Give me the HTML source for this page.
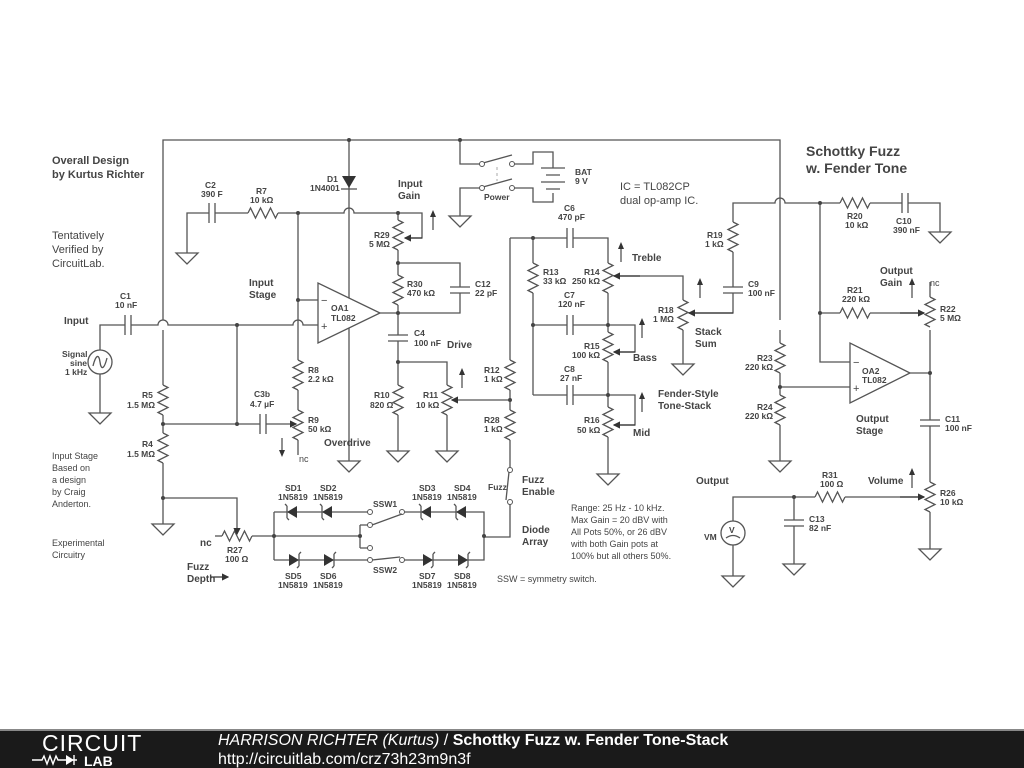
<!DOCTYPE html>
<html><head><meta charset="utf-8"><style>
body{margin:0;width:1024px;height:768px;background:#fff;overflow:hidden;font-family:"Liberation Sans",sans-serif}
svg{position:absolute;left:0;top:0}
.w{stroke:#555;stroke-width:1.3;fill:none}
text{fill:#444;font-family:"Liberation Sans",sans-serif}
.b{font-weight:bold;font-size:8.5px}
.m{font-weight:bold;font-size:10px}
.n{font-size:11px}
</style></head><body>
<svg width="1024" height="768" viewBox="0 0 1024 768">
<defs>
<g id="rv"><rect x="-6" y="-15" width="12" height="30" fill="#fff"/><path class="w" d="M0,-15 l5,2.5 l-10,5 l10,5 l-10,5 l10,5 l-10,5 l5,2.5"/></g>
<g id="rh"><rect x="-15" y="-6" width="30" height="12" fill="#fff"/><path class="w" d="M-15,0 l2.5,-5 l5,10 l5,-10 l5,10 l5,-10 l5,10 l2.5,-5"/></g>
<g id="cv"><rect x="-10" y="-3" width="20" height="6" fill="#fff"/><path class="w" d="M-10,-3h20M-10,3h20"/></g>
<g id="ch"><rect x="-3" y="-10" width="6" height="20" fill="#fff"/><path class="w" d="M-3,-10v20M3,-10v20"/></g>
<g id="g"><path class="w" d="M0,0v6M-11,6h22l-11,11z"/></g>
<g id="dl"><path d="M-6,0l10,-6v12z" fill="#333"/><path class="w" d="M-6,-6v12M-6,-6l-2,-2M-6,6l2,2"/></g>
<g id="dr"><path d="M6,0l-10,-6v12z" fill="#333"/><path class="w" d="M6,-6v12M6,-6l2,-2M6,6l-2,2"/></g>
<g id="ua"><path class="w" d="M0,0v-16"/><path d="M0,-20l-3,7h6z" fill="#333"/></g>
<marker id="ar" markerWidth="6" markerHeight="6" refX="5" refY="3" orient="auto"><path d="M0,0L6,3L0,6z" fill="#333"/></marker>
</defs>

<!-- wires -->
<path class="w" d="M163,320V140H780V320 M780,330V455"/>
<path class="w" d="M163,330V518 M349,140V455"/>
<path class="w" d="M100,350V325H158a5,5 0 0 1 10,0H293a5,5 0 0 1 10,0H318 M100,374V407"/>
<path class="w" d="M237,325V424 M163,424H290 M163,498H237V530"/>
<path class="w" d="M187,247V213H344a5,5 0 0 1 10,0H422V238H410 M298,213V300H318 M298,300V440 M298,440V455"/>
<path class="w" d="M398,213V313 M398,263H460V313H380 M398,313V445 M398,362H447V445 M455,400H510"/>
<path class="w" d="M510,238V470 M510,502V537H484"/>
<path class="w" d="M510,238H608V468 M533,238V395 M533,325H608 M533,395H608 M608,325H635V352H615 M608,395H635V425H615 M615,276H683V358"/>
<path class="w" d="M690,313H733V203H775a5,5 0 0 1 10,0H940V226"/>
<path class="w" d="M820,203V362H850 M820,313H925 M780,387H850 M910,373H930 M930,330V543 M930,282V300"/>
<path class="w" d="M733,521V497H925 M794,497V558 M733,545V570"/>
<!-- diode array -->
<path class="w" d="M252,536H360 M274,512V560 M274,512H370 M402,512H484V560H402 M370,560H274 M360,525V548"/>
<!-- battery/switch -->
<path class="w" d="M460,140V164H480 M512,164H533V152H553V168 M553,193V202H533V188H512 M480,188H460V210"/>
<path class="w" d="M483,163L512,155 M483,187L512,179"/><path d="M497,167V181" stroke="#aaa" stroke-dasharray="3,3"/>
<path class="w" d="M541,168h24M546,175h14M541,182h24M546,189h14"/>
<g fill="#fff" stroke="#555"><circle cx="482" cy="164" r="2.5"/><circle cx="512" cy="164" r="2.5"/><circle cx="482" cy="188" r="2.5"/><circle cx="512" cy="188" r="2.5"/>
<circle cx="510" cy="470" r="2.5"/><circle cx="510" cy="502" r="2.5"/>
<circle cx="370" cy="512" r="2.5"/><circle cx="402" cy="512" r="2.5"/><circle cx="370" cy="525" r="2.5"/><circle cx="370" cy="548" r="2.5"/><circle cx="370" cy="560" r="2.5"/><circle cx="402" cy="560" r="2.5"/></g>
<path class="w" d="M360,525H368 M360,548H368 M372,525L402,514 M372,560L400,557 M509,472L506,500"/>
<!-- diodes D1 -->
<path d="M342,176h14l-7,12z" fill="#333"/><path class="w" d="M341,189h16"/>
<use href="#dl" x="293" y="512"/><use href="#dl" x="328" y="512"/><use href="#dl" x="427" y="512"/><use href="#dl" x="462" y="512"/>
<use href="#dr" x="293" y="560"/><use href="#dr" x="328" y="560"/><use href="#dr" x="427" y="560"/><use href="#dr" x="462" y="560"/>
<!-- op amps -->
<path d="M318,283L318,343L380,313Z" fill="#fff" stroke="#555" stroke-width="1.3"/>
<path d="M850,343L850,403L910,373Z" fill="#fff" stroke="#555" stroke-width="1.3"/>
<text x="321" y="304" class="n">−</text><text x="321" y="330" class="n">+</text>
<text x="853" y="366" class="n">−</text><text x="853" y="392" class="n">+</text>
<!-- resistors -->
<use href="#rv" x="163" y="400"/><use href="#rv" x="163" y="448"/>
<use href="#rv" x="298" y="375"/><use href="#rv" x="298" y="425"/>
<use href="#rv" x="398" y="235"/><use href="#rv" x="398" y="290"/><use href="#rv" x="398" y="400"/><use href="#rv" x="447" y="400"/>
<use href="#rv" x="510" y="375"/><use href="#rv" x="510" y="425"/>
<use href="#rv" x="533" y="278"/><use href="#rv" x="608" y="278"/><use href="#rv" x="608" y="347"/><use href="#rv" x="608" y="422"/>
<use href="#rv" x="683" y="315"/><use href="#rv" x="733" y="237"/>
<use href="#rv" x="780" y="358"/><use href="#rv" x="780" y="410"/><use href="#rv" x="930" y="312"/><use href="#rv" x="930" y="497"/>
<use href="#rh" x="263" y="213"/><use href="#rh" x="237" y="536"/><use href="#rh" x="855" y="203"/><use href="#rh" x="855" y="313"/><use href="#rh" x="830" y="497"/>
<path class="w" d="M215,536H222"/>
<!-- caps -->
<use href="#ch" x="128" y="325"/><use href="#ch" x="212" y="213"/><use href="#ch" x="263" y="424"/><use href="#ch" x="570" y="238"/><use href="#ch" x="570" y="325"/><use href="#ch" x="570" y="395"/><use href="#ch" x="905" y="203"/>
<use href="#cv" x="460" y="290"/><use href="#cv" x="398" y="338"/><use href="#cv" x="733" y="290"/><use href="#cv" x="930" y="423"/><use href="#cv" x="794" y="523"/>
<!-- wiper arrows -->
<g stroke="#333" stroke-width="1.2" fill="none" marker-end="url(#ar)">
<path d="M422,238H405"/><path d="M290,424H296"/><path d="M455,400H452"/><path d="M237,530V534"/>
<path d="M635,352H614"/><path d="M635,425H614"/><path d="M640,276H614"/><path d="M733,313H689"/><path d="M900,313H924"/><path d="M900,497H924"/>
<path d="M210,577H228"/>
</g>
<use href="#ua" x="433" y="230"/><use href="#ua" x="462" y="388"/><use href="#ua" x="621" y="262"/><use href="#ua" x="642" y="338"/><use href="#ua" x="642" y="412"/>
<use href="#ua" x="700" y="298"/><use href="#ua" x="912" y="298"/><use href="#ua" x="912" y="488"/>
<path class="w" d="M282,438v14"/><path d="M282,457l-3,-7h6z" fill="#333"/>
<!-- sources -->
<circle cx="100" cy="362" r="12" fill="#fff" stroke="#555" stroke-width="1.3"/><path class="w" d="M93,366c3,-12 6,-12 7,-4s4,8 7,-4"/>
<circle cx="733" cy="533" r="12" fill="#fff" stroke="#555" stroke-width="1.3"/><text x="729" y="533" class="b">V</text><path class="w" d="M726,538q7,-5 14,0"/>
<!-- grounds -->
<use href="#g" x="100" y="407"/><use href="#g" x="163" y="518"/><use href="#g" x="187" y="247"/><use href="#g" x="349" y="455"/><use href="#g" x="398" y="445"/><use href="#g" x="447" y="445"/><use href="#g" x="460" y="210"/>
<use href="#g" x="608" y="468"/><use href="#g" x="683" y="358"/><use href="#g" x="780" y="455"/><use href="#g" x="940" y="226"/><use href="#g" x="930" y="543"/><use href="#g" x="794" y="558"/><use href="#g" x="733" y="570"/>
<!-- dots -->
<g fill="#444"><circle cx="237" cy="325" r="2"/><circle cx="163" cy="424" r="2"/><circle cx="237" cy="424" r="2"/><circle cx="163" cy="498" r="2"/><circle cx="298" cy="213" r="2"/><circle cx="298" cy="300" r="2"/>
<circle cx="398" cy="213" r="2"/><circle cx="398" cy="263" r="2"/><circle cx="398" cy="313" r="2"/><circle cx="398" cy="362" r="2"/><circle cx="510" cy="400" r="2"/><circle cx="533" cy="238" r="2"/><circle cx="533" cy="325" r="2"/>
<circle cx="608" cy="325" r="2"/><circle cx="608" cy="395" r="2"/><circle cx="820" cy="203" r="2"/><circle cx="820" cy="313" r="2"/><circle cx="780" cy="387" r="2"/><circle cx="930" cy="373" r="2"/><circle cx="794" cy="497" r="2"/>
<circle cx="274" cy="536" r="2"/><circle cx="360" cy="536" r="2"/><circle cx="484" cy="536" r="2"/><circle cx="349" cy="140" r="2"/><circle cx="460" cy="140" r="2"/></g>

<!-- text -->
<text x="52" y="164" class="m" style="font-size:11px">Overall Design</text><text x="52" y="178" class="m" style="font-size:11px">by Kurtus Richter</text>
<text x="52" y="239" class="n">Tentatively</text><text x="52" y="253" class="n">Verified by</text><text x="52" y="267" class="n">CircuitLab.</text>
<text x="52" y="459" style="font-size:9px">Input Stage</text><text x="52" y="471" style="font-size:9px">Based on</text><text x="52" y="483" style="font-size:9px">a design</text><text x="52" y="495" style="font-size:9px">by Craig</text><text x="52" y="507" style="font-size:9px">Anderton.</text>
<text x="52" y="546" style="font-size:9px">Experimental</text><text x="52" y="558" style="font-size:9px">Circuitry</text>
<text x="806" y="156" style="font-weight:bold;font-size:14px">Schottky Fuzz</text><text x="806" y="173" style="font-weight:bold;font-size:14px">w. Fender Tone</text>
<text x="620" y="190" class="n">IC = TL082CP</text><text x="620" y="204" class="n">dual op-amp IC.</text>
<text x="571" y="511" style="font-size:9px">Range: 25 Hz - 10 kHz.</text><text x="571" y="523" style="font-size:9px">Max Gain = 20 dBV with</text><text x="571" y="535" style="font-size:9px">All Pots 50%, or 26 dBV</text><text x="571" y="547" style="font-size:9px">with both Gain pots at</text><text x="571" y="559" style="font-size:9px">100% but all others 50%.</text>
<text x="497" y="582" style="font-size:9px">SSW = symmetry switch.</text>
<g class="m">
<text x="64" y="324" class="m">Input</text><text x="249" y="286" class="m">Input</text><text x="249" y="298" class="m">Stage</text>
<text x="398" y="187" class="m">Input</text><text x="398" y="199" class="m">Gain</text><text x="447" y="348" class="m">Drive</text><text x="324" y="446" class="m">Overdrive</text>
<text x="632" y="261" class="m">Treble</text><text x="633" y="361" class="m">Bass</text><text x="633" y="436" class="m">Mid</text><text x="695" y="335" class="m">Stack</text><text x="695" y="347" class="m">Sum</text>
<text x="658" y="397" class="m">Fender-Style</text><text x="658" y="409" class="m">Tone-Stack</text>
<text x="880" y="274" class="m">Output</text><text x="880" y="286" class="m">Gain</text><text x="856" y="422" class="m">Output</text><text x="856" y="434" class="m">Stage</text>
<text x="696" y="484" class="m">Output</text><text x="868" y="484" class="m">Volume</text>
<text x="522" y="483" class="m">Fuzz</text><text x="522" y="495" class="m">Enable</text><text x="522" y="533" class="m">Diode</text><text x="522" y="545" class="m">Array</text>
<text x="187" y="570" class="m">Fuzz</text><text x="187" y="582" class="m">Depth</text>
</g>
<g class="b">
<text x="120" y="299">C1</text><text x="115" y="308">10 nF</text>
<text x="62" y="357">Signal</text><text x="70" y="366">sine</text><text x="65" y="375">1 kHz</text>
<text x="142" y="398">R5</text><text x="127" y="408">1.5 MΩ</text><text x="142" y="447">R4</text><text x="127" y="457">1.5 MΩ</text>
<text x="205" y="188">C2</text><text x="201" y="197">390 F</text><text x="256" y="194">R7</text><text x="250" y="203">10 kΩ</text>
<text x="327" y="182">D1</text><text x="310" y="191">1N4001</text>
<text x="374" y="238">R29</text><text x="369" y="247">5 MΩ</text><text x="407" y="287">R30</text><text x="407" y="296">470 kΩ</text><text x="475" y="287">C12</text><text x="475" y="296">22 pF</text>
<text x="331" y="311">OA1</text><text x="331" y="321">TL082</text><text x="414" y="336">C4</text><text x="414" y="346">100 nF</text>
<text x="308" y="373">R8</text><text x="308" y="382">2.2 kΩ</text><text x="254" y="397">C3b</text><text x="250" y="407">4.7 µF</text><text x="308" y="423">R9</text><text x="308" y="432">50 kΩ</text>
<text x="299" y="462" style="font-weight:normal;font-size:9px">nc</text>
<text x="374" y="398">R10</text><text x="370" y="408">820 Ω</text><text x="423" y="398">R11</text><text x="416" y="408">10 kΩ</text>
<text x="484" y="373">R12</text><text x="484" y="382">1 kΩ</text><text x="484" y="423">R28</text><text x="484" y="432">1 kΩ</text>
<text x="564" y="211">C6</text><text x="558" y="220">470 pF</text><text x="543" y="275">R13</text><text x="543" y="284">33 kΩ</text><text x="584" y="275">R14</text><text x="572" y="284">250 kΩ</text>
<text x="564" y="298">C7</text><text x="558" y="307">120 nF</text><text x="584" y="349">R15</text><text x="572" y="358">100 kΩ</text><text x="564" y="372">C8</text><text x="560" y="381">27 nF</text><text x="584" y="423">R16</text><text x="577" y="433">50 kΩ</text>
<text x="658" y="313">R18</text><text x="653" y="322">1 MΩ</text><text x="707" y="238">R19</text><text x="705" y="247">1 kΩ</text><text x="748" y="287">C9</text><text x="748" y="296">100 nF</text>
<text x="575" y="175">BAT</text><text x="575" y="184">9 V</text><text x="484" y="200">Power</text>
<text x="847" y="219">R20</text><text x="845" y="228">10 kΩ</text><text x="896" y="224">C10</text><text x="893" y="233">390 nF</text>
<text x="847" y="293">R21</text><text x="842" y="302">220 kΩ</text><text x="940" y="312">R22</text><text x="940" y="321">5 MΩ</text><text x="930" y="286" style="font-weight:normal;font-size:9px">nc</text>
<text x="757" y="361">R23</text><text x="745" y="370">220 kΩ</text><text x="757" y="410">R24</text><text x="745" y="419">220 kΩ</text>
<text x="862" y="374">OA2</text><text x="862" y="383">TL082</text><text x="945" y="422">C11</text><text x="945" y="431">100 nF</text>
<text x="822" y="478">R31</text><text x="820" y="487">100 Ω</text><text x="940" y="496">R26</text><text x="940" y="505">10 kΩ</text>
<text x="809" y="522">C13</text><text x="809" y="531">82 nF</text><text x="704" y="540">VM</text>
<text x="488" y="490">Fuzz</text><text x="200" y="546" style="font-size:10px">nc</text><text x="227" y="553">R27</text><text x="225" y="562">100 Ω</text>
<text x="285" y="491">SD1</text><text x="278" y="500">1N5819</text><text x="320" y="491">SD2</text><text x="313" y="500">1N5819</text>
<text x="419" y="491">SD3</text><text x="412" y="500">1N5819</text><text x="454" y="491">SD4</text><text x="447" y="500">1N5819</text><text x="373" y="507">SSW1</text>
<text x="285" y="579">SD5</text><text x="278" y="588">1N5819</text><text x="320" y="579">SD6</text><text x="313" y="588">1N5819</text>
<text x="419" y="579">SD7</text><text x="412" y="588">1N5819</text><text x="454" y="579">SD8</text><text x="447" y="588">1N5819</text><text x="373" y="573">SSW2</text>
</g>
<!-- footer -->
<rect x="0" y="729" width="1024" height="39" fill="#1a1a1a"/>
<rect x="0" y="729" width="1024" height="2" fill="#888"/>
<text x="42" y="751" style="fill:#fff;font-size:23px;letter-spacing:1px">CIRCUIT</text>
<path d="M32,760h10l2,-4 3,8 3,-8 3,8 3,-8 2,4h6M63,760h14" stroke="#fff" stroke-width="1.4" fill="none"/><path d="M66,755l8,5-8,5z" fill="#fff"/><path d="M74,755v10" stroke="#fff" stroke-width="1.4"/>
<text x="84" y="766" style="fill:#fff;font-size:14px;font-weight:bold">LAB</text>
<text x="218" y="745" style="fill:#fff;font-size:16px"><tspan font-style="italic">HARRISON RICHTER (Kurtus)</tspan> / <tspan font-weight="bold">Schottky Fuzz w. Fender Tone-Stack</tspan></text>
<text x="218" y="764" style="fill:#fff;font-size:16px">http://circuitlab.com/crz73h23m9n3f</text>
</svg>
</body></html>
